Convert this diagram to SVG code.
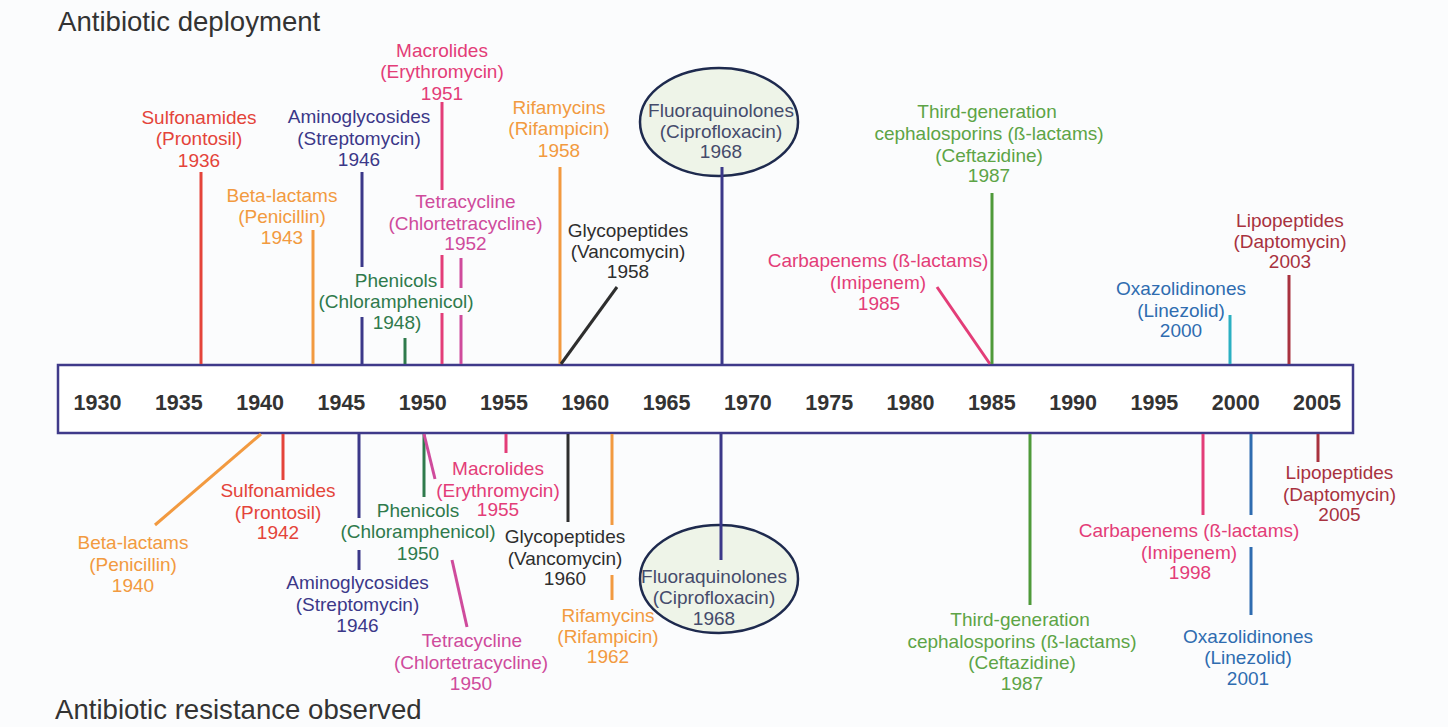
<svg xmlns="http://www.w3.org/2000/svg" width="1448" height="727" viewBox="0 0 1448 727">
<style>
text{font-family:"Liberation Sans",Arial,sans-serif;}
.lbl{font-size:19px;text-anchor:middle;}
.yr{font-size:21.5px;font-weight:bold;fill:#333;text-anchor:middle;}
.title{font-size:27.6px;fill:#333;}
.c{stroke-width:3;fill:none;stroke-linecap:butt;}
.red{fill:#e4443a;} .sred{stroke:#e4443a;}
.org{fill:#f29a40;} .sorg{stroke:#f29a40;}
.blu{fill:#3b3889;} .sblu{stroke:#3b3889;}
.pnk{fill:#e33d78;} .spnk{stroke:#e33d78;}
.mag{fill:#cf4b9c;} .smag{stroke:#cf4b9c;}
.grn{fill:#2f7a4c;} .sgrn{stroke:#2f7a4c;}
.gry{fill:#2e2e2e;} .sgry{stroke:#2e2e2e;}
.nav{fill:#454b6b;}
.lgr{fill:#5da446;} .slgr{stroke:#4f9a3a;}
.oxb{fill:#2f6cb0;} .soxb{stroke:#2f6cb0;} .steal{stroke:#2bb0c2;}
.drd{fill:#a8323f;} .sdrd{stroke:#a8323f;}
.ell{fill:#eef4e8;stroke:#1e2a4e;stroke-width:2.5;}
</style>
<rect x="0" y="0" width="1448" height="727" fill="#fbfcfd"/>

<g id="titles">
<text class="title" x="58" y="31">Antibiotic deployment</text>
<text class="title" x="55" y="719">Antibiotic resistance observed</text>
</g>

<g id="timeline">
<rect x="58" y="365" width="1295" height="68" fill="#ffffff" stroke="#3f3a8a" stroke-width="2.5"/>
<text class="yr" x="97.5" y="410">1930</text>
<text class="yr" x="178.8" y="410">1935</text>
<text class="yr" x="260.1" y="410">1940</text>
<text class="yr" x="341.4" y="410">1945</text>
<text class="yr" x="422.7" y="410">1950</text>
<text class="yr" x="504" y="410">1955</text>
<text class="yr" x="585.3" y="410">1960</text>
<text class="yr" x="666.6" y="410">1965</text>
<text class="yr" x="747.9" y="410">1970</text>
<text class="yr" x="829.2" y="410">1975</text>
<text class="yr" x="910.5" y="410">1980</text>
<text class="yr" x="991.8" y="410">1985</text>
<text class="yr" x="1073.1" y="410">1990</text>
<text class="yr" x="1154.4" y="410">1995</text>
<text class="yr" x="1235.7" y="410">2000</text>
<text class="yr" x="1317" y="410">2005</text>
</g>

<!-- Deployment (top) -->
<g id="dep-sulfonamides"><text class="lbl red"><tspan x="199" y="123.5">Sulfonamides</tspan><tspan x="199" y="145">(Prontosil)</tspan><tspan x="199" y="166.5">1936</tspan></text></g>
<g id="dep-betalactams"><text class="lbl org"><tspan x="282" y="201.5">Beta-lactams</tspan><tspan x="282" y="223">(Penicillin)</tspan><tspan x="282" y="244">1943</tspan></text></g>
<g id="dep-aminoglycosides"><text class="lbl blu"><tspan x="359" y="123">Aminoglycosides</tspan><tspan x="359" y="145">(Streptomycin)</tspan><tspan x="359" y="166">1946</tspan></text></g>
<g id="dep-macrolides"><text class="lbl pnk"><tspan x="442" y="56.5">Macrolides</tspan><tspan x="442" y="78">(Erythromycin)</tspan><tspan x="442" y="99.5">1951</tspan></text></g>
<g id="dep-tetracycline"><text class="lbl mag"><tspan x="465.5" y="208">Tetracycline</tspan><tspan x="465.5" y="229.5">(Chlortetracycline)</tspan><tspan x="465.5" y="250">1952</tspan></text></g>
<g id="dep-phenicols"><text class="lbl grn"><tspan x="396" y="286.5">Phenicols</tspan><tspan x="396" y="308">(Chloramphenicol)</tspan><tspan x="397" y="329">1948)</tspan></text></g>
<g id="dep-rifamycins"><text class="lbl org"><tspan x="559" y="113.5">Rifamycins</tspan><tspan x="559" y="135">(Rifampicin)</tspan><tspan x="559" y="156.5">1958</tspan></text></g>
<g id="dep-glycopeptides"><text class="lbl gry"><tspan x="628" y="236.5">Glycopeptides</tspan><tspan x="628" y="258">(Vancomycin)</tspan><tspan x="628" y="278">1958</tspan></text></g>
<g id="dep-fluoroquinolones"><ellipse class="ell" cx="719" cy="122" rx="79" ry="54"/><text class="lbl nav"><tspan x="721" y="116.5">Fluoraquinolones</tspan><tspan x="721" y="138">(Ciprofloxacin)</tspan><tspan x="721" y="158">1968</tspan></text></g>
<g id="dep-thirdgen"><text class="lbl lgr"><tspan x="987" y="118">Third-generation</tspan><tspan x="989" y="140">cephalosporins (ß-lactams)</tspan><tspan x="989" y="161.5">(Ceftazidine)</tspan><tspan x="989" y="182">1987</tspan></text></g>
<g id="dep-carbapenems"><text class="lbl pnk"><tspan x="878" y="266.5">Carbapenems (ß-lactams)</tspan><tspan x="878" y="289">(Imipenem)</tspan><tspan x="879" y="310">1985</tspan></text></g>
<g id="dep-oxazolidinones"><text class="lbl oxb"><tspan x="1181" y="295">Oxazolidinones</tspan><tspan x="1181" y="316.5">(Linezolid)</tspan><tspan x="1181" y="337">2000</tspan></text></g>
<g id="dep-lipopeptides"><text class="lbl drd"><tspan x="1290" y="226.5">Lipopeptides</tspan><tspan x="1290" y="248">(Daptomycin)</tspan><tspan x="1290" y="268">2003</tspan></text></g>

<!-- Resistance (bottom) -->
<g id="res-betalactams"><text class="lbl org"><tspan x="133" y="549">Beta-lactams</tspan><tspan x="133" y="570.5">(Penicillin)</tspan><tspan x="133" y="591.5">1940</tspan></text></g>
<g id="res-sulfonamides"><text class="lbl red"><tspan x="278" y="497">Sulfonamides</tspan><tspan x="278" y="519">(Prontosil)</tspan><tspan x="278" y="539">1942</tspan></text></g>
<g id="res-aminoglycosides"><text class="lbl blu"><tspan x="357.5" y="589">Aminoglycosides</tspan><tspan x="357.5" y="611">(Streptomycin)</tspan><tspan x="357.5" y="631.5">1946</tspan></text></g>
<g id="res-phenicols"><text class="lbl grn"><tspan x="418" y="516.5">Phenicols</tspan><tspan x="418" y="538">(Chloramphenicol)</tspan><tspan x="418" y="559.5">1950</tspan></text></g>
<g id="res-macrolides"><text class="lbl pnk"><tspan x="498" y="474.5">Macrolides</tspan><tspan x="498" y="496.5">(Erythromycin)</tspan><tspan x="498" y="516">1955</tspan></text></g>
<g id="res-glycopeptides"><text class="lbl gry"><tspan x="565" y="543">Glycopeptides</tspan><tspan x="565" y="565">(Vancomycin)</tspan><tspan x="565" y="585">1960</tspan></text></g>
<g id="res-rifamycins"><text class="lbl org"><tspan x="608" y="621.5">Rifamycins</tspan><tspan x="608" y="642.5">(Rifampicin)</tspan><tspan x="608" y="663">1962</tspan></text></g>
<g id="res-tetracycline"><text class="lbl mag"><tspan x="472" y="646.5">Tetracycline</tspan><tspan x="471" y="669">(Chlortetracycline)</tspan><tspan x="471" y="689.5">1950</tspan></text></g>
<g id="res-fluoroquinolones"><ellipse class="ell" cx="719" cy="579" rx="79" ry="54"/><text class="lbl nav"><tspan x="714" y="583">Fluoraquinolones</tspan><tspan x="714" y="604">(Ciprofloxacin)</tspan><tspan x="714" y="624.5">1968</tspan></text></g>
<g id="res-thirdgen"><text class="lbl lgr"><tspan x="1020" y="626">Third-generation</tspan><tspan x="1022" y="647.5">cephalosporins (ß-lactams)</tspan><tspan x="1022" y="669">(Ceftazidine)</tspan><tspan x="1022" y="689.5">1987</tspan></text></g>
<g id="res-carbapenems"><text class="lbl pnk"><tspan x="1189" y="537">Carbapenems (ß-lactams)</tspan><tspan x="1189" y="559">(Imipenem)</tspan><tspan x="1190" y="579">1998</tspan></text></g>
<g id="res-oxazolidinones"><text class="lbl oxb"><tspan x="1248" y="642.5">Oxazolidinones</tspan><tspan x="1248" y="664">(Linezolid)</tspan><tspan x="1248" y="684.5">2001</tspan></text></g>
<g id="res-lipopeptides"><text class="lbl drd"><tspan x="1339.5" y="479">Lipopeptides</tspan><tspan x="1339.5" y="500.5">(Daptomycin)</tspan><tspan x="1339.5" y="520.5">2005</tspan></text></g>

<g id="connectors">
<line class="c sred" x1="201" y1="172" x2="201" y2="364"/>
<line class="c sorg" x1="313" y1="230" x2="313" y2="364"/>
<line class="c sblu" x1="362" y1="172" x2="362" y2="267"/>
<line class="c sblu" x1="362" y1="317" x2="362" y2="364"/>
<line class="c sgrn" x1="405" y1="338" x2="405" y2="364"/>
<line class="c spnk" x1="442" y1="102" x2="442" y2="190"/>
<line class="c spnk" x1="442" y1="255" x2="442" y2="288"/>
<line class="c spnk" x1="442" y1="313" x2="442" y2="364"/>
<line class="c smag" x1="461" y1="258" x2="461" y2="288"/>
<line class="c smag" x1="461" y1="315" x2="461" y2="364"/>
<line class="c sorg" x1="560" y1="167" x2="560" y2="364"/>
<line class="c sgry" x1="617" y1="287" x2="561" y2="364"/>
<line class="c sblu" x1="722" y1="167" x2="722" y2="364"/>
<line class="c spnk" x1="937" y1="287" x2="990" y2="364"/>
<line class="c slgr" x1="992" y1="193" x2="992" y2="364"/>
<line class="c steal" x1="1230" y1="315" x2="1230" y2="364"/>
<line class="c sdrd" x1="1289" y1="275" x2="1289" y2="364"/>

<line class="c sorg" x1="261" y1="434" x2="155" y2="525"/>
<line class="c sred" x1="283" y1="434" x2="283" y2="480"/>
<line class="c sblu" x1="359" y1="434" x2="359" y2="518"/>
<line class="c sblu" x1="359" y1="550" x2="359" y2="570"/>
<line class="c sgrn" x1="424" y1="434" x2="424" y2="497"/>
<line class="c smag" x1="424" y1="434" x2="435" y2="479"/>
<line class="c smag" x1="452" y1="560" x2="467" y2="627"/>
<line class="c spnk" x1="506" y1="434" x2="506" y2="453"/>
<line class="c sgry" x1="568" y1="434" x2="568" y2="522"/>
<line class="c sorg" x1="612" y1="434" x2="612" y2="525"/>
<line class="c sorg" x1="612" y1="575" x2="612" y2="600"/>
<line class="c sblu" x1="721" y1="434" x2="721" y2="560"/>
<line class="c slgr" x1="1030" y1="434" x2="1030" y2="605"/>
<line class="c spnk" x1="1203" y1="434" x2="1203" y2="515"/>
<line class="c soxb" x1="1251" y1="434" x2="1251" y2="515"/>
<line class="c soxb" x1="1251" y1="547" x2="1251" y2="615"/>
<line class="c sdrd" x1="1318" y1="434" x2="1318" y2="462" stroke-width="4"/>
</g>
</svg>
